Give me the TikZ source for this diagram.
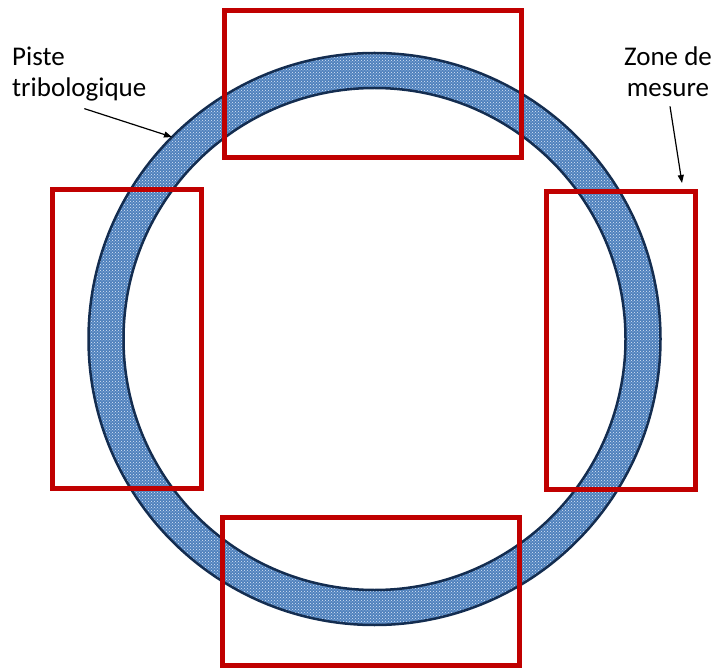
\documentclass[tikz,border=0pt]{standalone}
\usepackage{fontspec}
\setmainfont{Carlito}
\usepackage{tikz}
\usetikzlibrary{arrows.meta,patterns,calc}
\definecolor{trackblue}{RGB}{79,129,189}
\definecolor{trackdots}{RGB}{220,232,248}
\definecolor{trackedge}{RGB}{20,45,80}
\definecolor{zonered}{RGB}{192,0,0}

\begin{document}
\begin{tikzpicture}[x=1pt, y=-1pt,
lbl/.style={inner sep=0pt, font=\fontsize{27}{31}\selectfont},
zone/.style={draw=zonered, line width=5pt},
arrow/.style={-{Triangle[length=8pt,width=6pt]}, line width=1.2pt, draw=black}
]
\useasboundingbox (0,0) rectangle (715,668);

% piste
\coordinate (c) at (374.5,339);
\fill[trackblue, even odd rule] (c) circle (286) (c) circle (251);
\fill[pattern=crosshatch dots, pattern color=trackdots, even odd rule] (c) circle (286) (c) circle (251);
\draw[trackedge, line width=2.5pt] (c) circle (286);
\draw[trackedge, line width=2.5pt] (c) circle (251);

% zones de mesure
\draw[zone] (224,11) rectangle (521,158);
\draw[zone] (52,190) rectangle (201,488);
\draw[zone] (546,192) rectangle (695,489);
\draw[zone] (222,517) rectangle (519,665);

% labels
\node[lbl, align=left, anchor=north west] (piste) at (12,47) {Piste\\tribologique};
\node[lbl, align=center, anchor=north] (mesure) at (668,47) {Zone de\\mesure};
\coordinate (pisteTip) at (172,137);
\coordinate (mesureTip) at (682,183);

\draw[arrow] ([shift={(5,7)}]piste.south) -- (pisteTip);
\draw[arrow] ([shift={(2,9)}]mesure.south) -- (mesureTip);

\end{tikzpicture}
\end{document}
